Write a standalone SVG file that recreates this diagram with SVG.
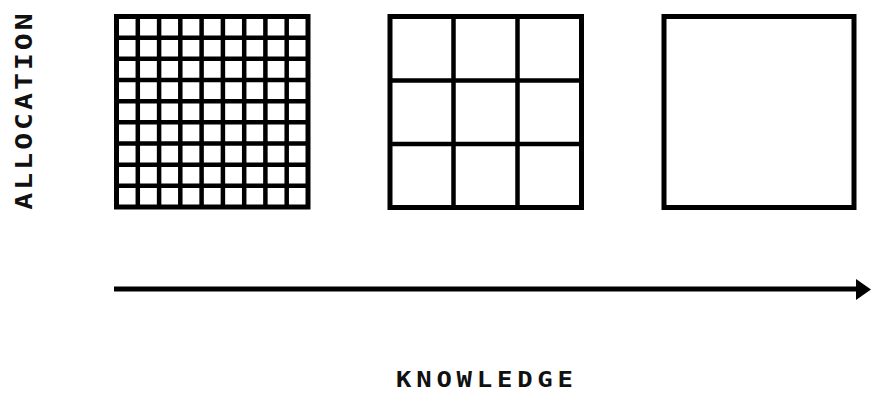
<svg xmlns="http://www.w3.org/2000/svg" width="871" height="394" viewBox="0 0 871 394">
<style>
.box{fill:none;stroke:#000;stroke-width:5}
.ln{stroke:#000;stroke-width:4.5}
.lbl{font-family:"DejaVu Sans Mono","Liberation Mono",monospace;font-weight:bold;font-size:21px;fill:#111}
</style>
<rect width="871" height="394" fill="#fff"/>
<g id="grid-fine">
<rect class="box" x="116.5" y="16.5" width="191.5" height="190.5"/>
<path class="ln" d="M137.8 16.5V207M159.1 16.5V207M180.3 16.5V207M201.6 16.5V207M222.9 16.5V207M244.2 16.5V207M265.4 16.5V207M286.7 16.5V207M116.5 37.7H308M116.5 58.8H308M116.5 80H308M116.5 101.2H308M116.5 122.3H308M116.5 143.5H308M116.5 164.7H308M116.5 185.8H308"/>
</g>
<g id="grid-medium">
<rect class="box" x="390" y="16.5" width="191.5" height="191"/>
<path class="ln" d="M453.5 16.5V207.5M517.5 16.5V207.5M390 80.5H581.5M390 144H581.5"/>
</g>
<g id="grid-coarse">
<rect class="box" x="664" y="16.5" width="190" height="191"/>
</g>
<g id="connectors">
<line x1="114" y1="289" x2="858" y2="289" stroke="#000" stroke-width="5"/>
<polygon points="856,279 871,289.5 856,300" fill="#000"/>
</g>
<g id="label-allocation">
<text class="lbl" style="font-size:23px" transform="translate(32,111.5) rotate(-90) scale(1.22,1)" text-anchor="middle" textLength="161" lengthAdjust="spacing">ALLOCATION</text>
</g>
<g id="label-knowledge">
<text class="lbl" transform="translate(484.5,386.5) scale(1.22,1)" text-anchor="middle" textLength="145" lengthAdjust="spacing">KNOWLEDGE</text>
</g>
</svg>
